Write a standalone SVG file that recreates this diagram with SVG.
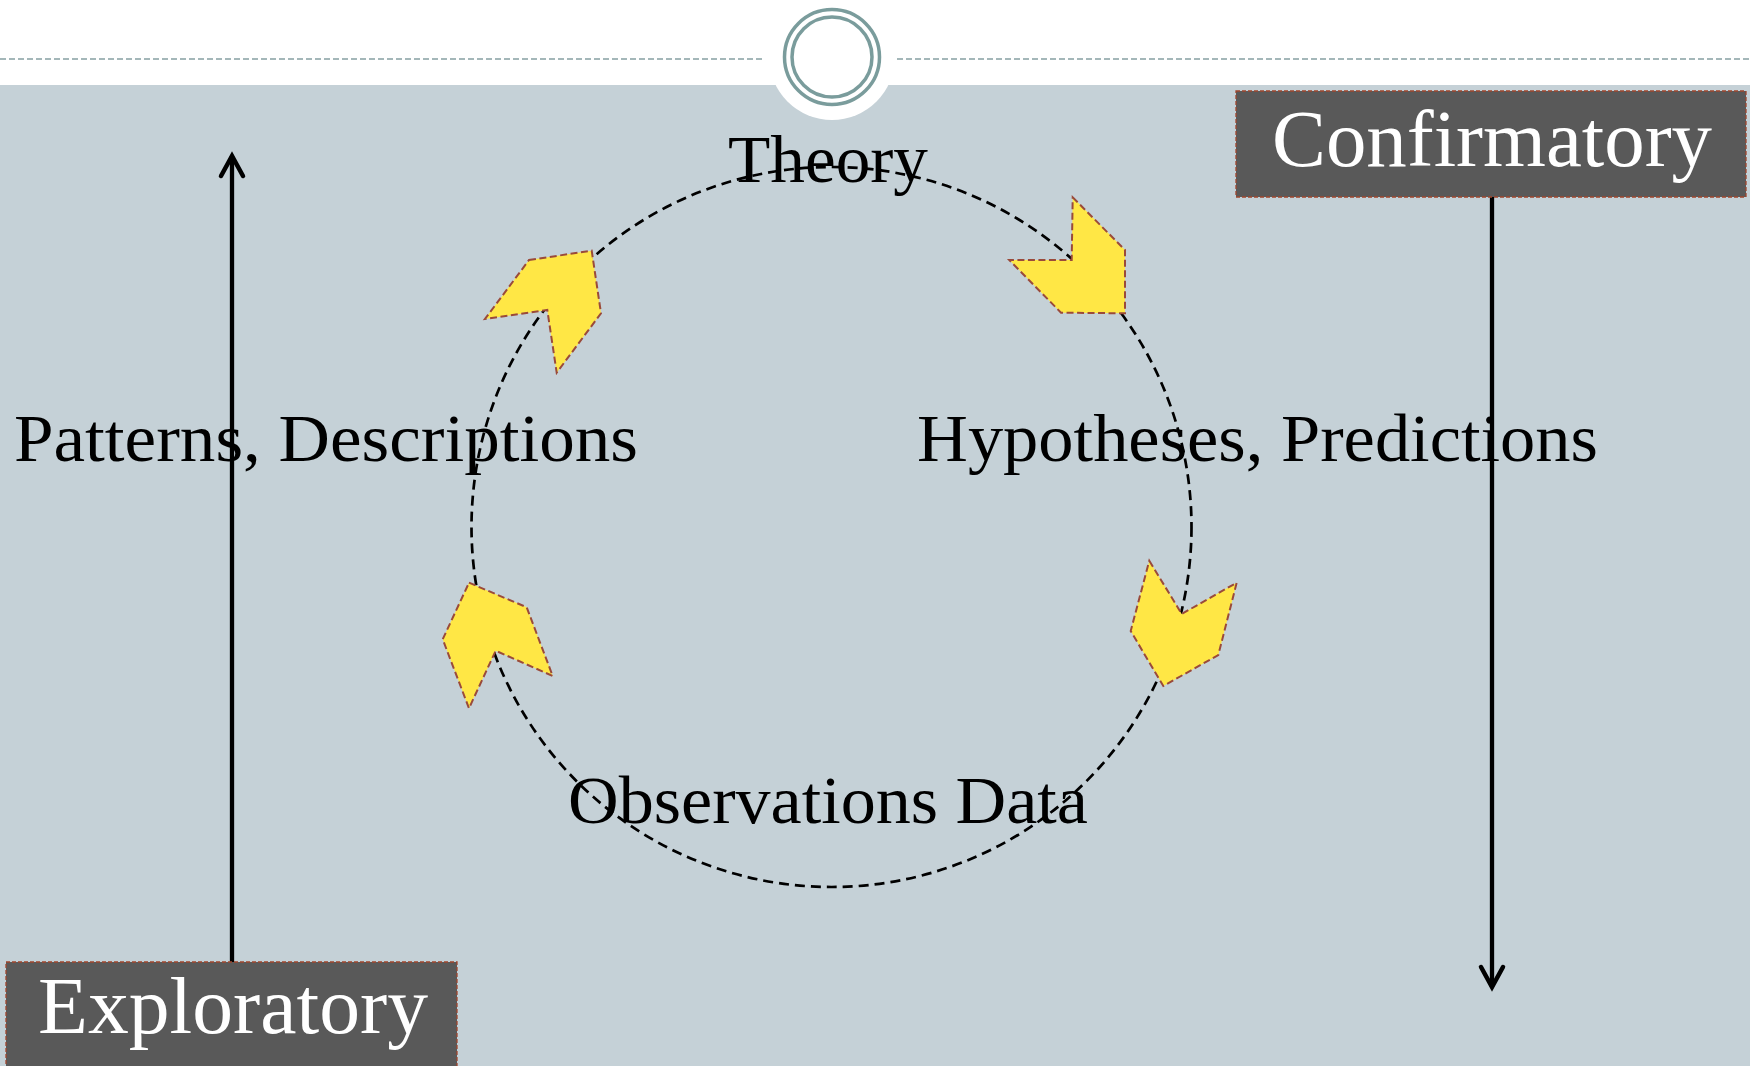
<svg xmlns="http://www.w3.org/2000/svg" width="1750" height="1066" viewBox="0 0 1750 1066">
<style>
.lbl{font-family:"Liberation Serif","DejaVu Serif",serif;font-size:68px;fill:#000}
.box{fill:#595959;stroke:#a0452d;stroke-width:1.3;stroke-dasharray:4 2}
.boxt{font-family:"Liberation Serif","DejaVu Serif",serif;font-size:80px;fill:#fff}
.chev{fill:#ffe745;stroke:#9a4a3a;stroke-width:2;stroke-dasharray:7 3.5;stroke-linejoin:miter}
.cycle{fill:none;stroke:#000;stroke-width:2.7;stroke-dasharray:10 6}
.arr{fill:none;stroke:#000;stroke-width:4.3}
.ring{fill:none;stroke:#7a9c9c;stroke-width:3.5}
.hdr{stroke:#86a0a2;stroke-width:1.5;stroke-dasharray:6 3}
</style>
<defs>
<marker id="head" markerUnits="userSpaceOnUse" markerWidth="40" markerHeight="40" refX="0" refY="0" viewBox="-30 -20 40 40" orient="auto" overflow="visible">
<path d="M -20 -11 L 0 0 L -20 11" fill="none" stroke="#000" stroke-width="4.5" stroke-linecap="round" stroke-linejoin="miter"/>
</marker>
</defs>
<rect x="0" y="0" width="1750" height="1066" fill="#c5d1d7"/>
<rect x="0" y="0" width="1750" height="85" fill="#fff"/>
<g id="header">
<circle cx="832" cy="57" r="63" fill="#fff"/>
<line class="hdr" x1="0" y1="59" x2="765" y2="59"/>
<line class="hdr" x1="897" y1="59" x2="1750" y2="59"/>
<circle class="ring" cx="832" cy="57" r="47.5"/>
<circle class="ring" cx="832" cy="57" r="40"/>
</g>
<g id="connectors">
<circle class="cycle" cx="831.5" cy="527" r="360"/>
<line class="arr" x1="232" y1="962" x2="232" y2="156" marker-end="url(#head)"/>
<line class="arr" x1="1492" y1="197" x2="1492" y2="987" marker-end="url(#head)"/>
<polygon class="chev" points="529,260 591.7,250.7 601,313.3 556.7,372.7 547.3,310 485,319"/>
<polygon class="chev" points="1072.7,197.3 1125,250 1125,313.3 1061,312.7 1009.3,260 1071.7,260"/>
<polygon class="chev" points="469,582.7 526.7,607.3 552.7,676 495.7,650.7 469,708.3 442.7,639.3"/>
<polygon class="chev" points="1149.3,560.7 1181.7,614 1236.7,582.7 1218.3,655 1163.3,686 1130.7,631"/>
</g>
<g id="theory"><text class="lbl" x="728" y="182" textLength="200" lengthAdjust="spacingAndGlyphs">Theory</text></g>
<g id="hypotheses"><text class="lbl" x="917" y="461" textLength="681" lengthAdjust="spacingAndGlyphs">Hypotheses, Predictions</text></g>
<g id="observations"><text class="lbl" x="568" y="823" textLength="520" lengthAdjust="spacingAndGlyphs">Observations Data</text></g>
<g id="patterns"><text class="lbl" x="14" y="461" textLength="624" lengthAdjust="spacingAndGlyphs">Patterns, Descriptions</text></g>
<g id="confirmatory">
<rect class="box" x="1236" y="91" width="510" height="106"/>
<text class="boxt" x="1272" y="166" textLength="440" lengthAdjust="spacingAndGlyphs">Confirmatory</text>
</g>
<g id="exploratory">
<rect class="box" x="6" y="962" width="451" height="110"/>
<text class="boxt" x="38" y="1033" textLength="390" lengthAdjust="spacingAndGlyphs">Exploratory</text>
</g>
</svg>
